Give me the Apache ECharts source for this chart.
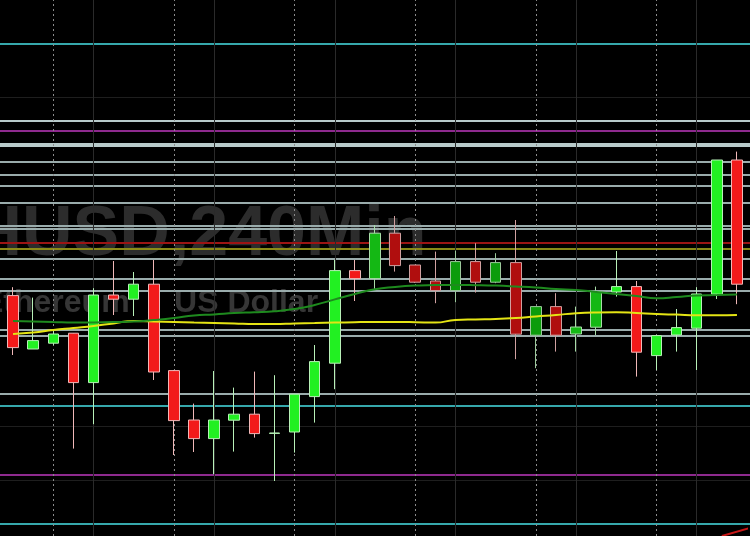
<!DOCTYPE html>
<html><head><meta charset="utf-8">
<script src="https://cdn.jsdelivr.net/npm/echarts@6/dist/echarts.min.js"></script>
<style>html,body{margin:0;padding:0;background:#000}#c{width:750px;height:536px}</style>
</head><body><div id="c"></div>
<script>
// 4-hour candles, ETHUSD
const categories = [
  '2/13 16:00','2/13 20:00',
  '2/14 00:00','2/14 04:00','2/14 08:00','2/14 12:00','2/14 16:00','2/14 20:00',
  '2/15 00:00','2/15 04:00','2/15 08:00','2/15 12:00','2/15 16:00','2/15 20:00',
  '2/16 00:00','2/16 04:00','2/16 08:00','2/16 12:00','2/16 16:00','2/16 20:00',
  '2/17 00:00','2/17 04:00','2/17 08:00','2/17 12:00','2/17 16:00','2/17 20:00',
  '2/18 00:00','2/18 04:00','2/18 08:00','2/18 12:00','2/18 16:00','2/18 20:00',
  '2/19 00:00','2/19 04:00','2/19 08:00','2/19 12:00','2/19 16:00'
];
// [open, close, low, high]
const candles = [
  [1720.2,1694.2,1690.5,1724.4],[1693.5,1697.7,1693.5,1719.2],[1696.4,1701.0,1695.5,1703.0],
  [1701.4,1676.7,1643.7,1701.5],[1676.7,1720.5,1655.9,1723.9],[1720.5,1718.4,1710.5,1737.5],
  [1718.4,1725.9,1710.0,1732.0],[1725.9,1682.0,1678.0,1738.0],[1682.7,1657.7,1640.5,1683.0],
  [1658.0,1648.7,1642.0,1666.2],[1648.7,1658.0,1630.9,1682.5],[1657.9,1660.9,1642.2,1674.2],
  [1660.9,1651.2,1649.2,1682.2],[1651.3,1651.5,1627.5,1680.4],[1652.0,1670.9,1641.7,1671.0],
  [1669.7,1687.2,1656.7,1695.5],[1686.4,1732.7,1673.4,1738.0],[1732.7,1728.7,1717.5,1738.0],
  [1728.7,1751.4,1723.4,1755.5],[1751.4,1735.2,1732.2,1760.0],[1735.5,1726.9,1726.5,1735.5],
  [1727.5,1722.7,1716.4,1742.2],[1722.7,1737.2,1716.9,1742.7],[1737.2,1726.9,1721.7,1746.4],
  [1726.9,1736.7,1726.4,1741.4],[1736.7,1700.9,1688.4,1758.0],[1700.4,1714.7,1683.9,1714.7],
  [1714.7,1700.4,1692.2,1721.4],[1701.0,1704.5,1692.2,1714.7],[1704.4,1722.2,1700.5,1724.7],
  [1722.0,1724.7,1719.7,1742.5],[1724.7,1691.9,1679.7,1727.5],[1690.2,1700.2,1683.0,1700.2],
  [1700.5,1704.2,1692.2,1713.5],[1703.9,1721.0,1683.0,1724.4],[1720.9,1788.0,1718.5,1788.0],
  [1788.0,1725.9,1715.9,1792.2]
];
const maSlow = [
  1701.0,1701.7,1703.0,1704.0,1705.0,1706.3,1707.5,1707.3,1707.0,1706.7,1706.5,1706.3,1706.0,
  1706.0,1706.3,1706.5,1706.7,1706.9,1707.0,1707.0,1706.9,1706.7,1708.0,1708.3,1708.5,1709.0,
  1709.8,1710.5,1711.4,1711.8,1711.9,1711.5,1711.0,1710.7,1710.4,1710.4,1710.5
];
const maFast = [
  1707.5,1707.3,1707.0,1706.7,1706.8,1707.0,1707.2,1708.0,1709.0,1710.3,1710.8,1711.5,1711.9,
  1712.4,1713.5,1715.5,1718.3,1721.0,1723.4,1724.5,1725.2,1725.5,1725.5,1725.4,1725.2,1724.8,
  1724.3,1723.5,1723.0,1722.0,1721.0,1720.0,1718.9,1719.5,1720.3,1720.5,1720.8
];
// horizontal price levels
const tealLevels = [1846.25, 1665.0, 1606.15];
const brightLevels = [1807.65, 1796.35, 1795.0];
const grayLevels = [1787.15, 1780.85, 1775.0, 1766.65, 1755.15, 1753.85, 1738.85, 1728.85, 1722.85, 1703.0, 1700.35, 1671.15];
const purpleLevels = [1802.5, 1630.85];
const redLevels = [1746.65];
const oliveLevels = [1743.5];
const faintLevels = [1819.5, 1655.0, 1628.0];
// vertical session markers
const dayLines = ['2/14 00:00','2/15 00:00','2/16 00:00','2/17 00:00','2/18 00:00','2/19 00:00'];
const sessionLines = ['2/14 08:00','2/15 08:00','2/16 08:00','2/17 08:00','2/18 08:00','2/19 08:00'];
// trend line [bar position, price]
const trendLine = [[35.75, 1600], [37.15, 1604]];

const dimIdx = new Set([19,20,21,22,23,24,25,26,27]);
const midIdx = new Set([18,28,29]);
const candleData = candles.map((v, i) => {
  let up = '#22f022', down = '#f21a1a';
  let upB = '#b8f0b8', downB = '#f0b8b8';
  if (dimIdx.has(i)) { up = '#0c9c0c'; down = '#b00e0e'; upB = '#9cc89c'; downB = '#d0a0a0'; }
  else if (midIdx.has(i)) { up = '#14b814'; down = '#c81010'; upB = '#a8dca8'; downB = '#dca8a8'; }
  const isUp = v[1] >= v[0];
  const fill = isUp ? up : down;
  const border = isUp ? upB : downB;
  return { value: v, itemStyle: { color: fill, color0: fill, borderColor: border, borderColor0: border } };
});

function lvl(list, color, width) {
  return list.map(v => ({ yAxis: v, lineStyle: { color: color, width: width, type: 'solid' } }));
}
const levelMarks = [].concat(
  lvl(faintLevels, '#1e1e1e', 1),
  lvl(grayLevels, '#9aacac', 2),
  lvl(brightLevels, '#b8caca', 2),
  lvl(tealLevels, '#36a8ac', 2),
  lvl(purpleLevels, '#8e2a8e', 2),
  lvl(redLevels, '#9c1414', 2),
  lvl(oliveLevels, '#8a8a18', 2)
);
const timeMarks = [].concat(
  sessionLines.map(c => ({ xAxis: c, lineStyle: { color: '#2a2a2a', width: 1, type: 'solid' } })),
  dayLines.map(c => ({ xAxis: c, lineStyle: { color: '#8c8c8c', width: 1, type: [2, 3] } }))
);
const ml = (data, z) => ({ silent: true, z: z, symbol: ['none', 'none'], label: { show: false }, animation: false, data: data });

const chart = echarts.init(document.getElementById('c'), null, { renderer: 'canvas' });
chart.setOption({
  backgroundColor: '#000',
  animation: false,
  grid: [
    { left: 3, right: 3, top: 0, bottom: 0 },
    { left: 0, right: 0, top: 0, bottom: 0 }
  ],
  xAxis: [
    { type: 'category', data: categories, boundaryGap: true, show: false, gridIndex: 0 },
    { type: 'value', min: 0, max: 37, show: false, gridIndex: 0 },
    { type: 'value', min: 0, max: 1, show: false, gridIndex: 1 }
  ],
  yAxis: [
    { type: 'value', min: 1600, max: 1868, show: false, gridIndex: 0 },
    { type: 'value', min: 1600, max: 1868, show: false, gridIndex: 1 }
  ],
  graphic: [
    { type: 'text', x: -118, y: 201, z: 0, silent: true,
      style: { text: 'ETHUSD,240Min', font: 'bold 70px "Liberation Sans"', fill: '#2c2c2c' } },
    { type: 'text', x: -18, y: 287, z: 0, silent: true,
      style: { text: 'Ethereum  /  US Dollar', font: 'bold 32px "Liberation Sans"', fill: '#363636' } }
  ],
  series: [
    { type: 'line', xAxisIndex: 2, yAxisIndex: 1, data: [], z: 1, silent: true, markLine: ml(levelMarks, 1) },
    { type: 'line', xAxisIndex: 0, yAxisIndex: 0, data: [], z: 1, silent: true, markLine: ml(timeMarks, 1) },
    { type: 'candlestick', xAxisIndex: 0, yAxisIndex: 0, data: candleData, z: 3, barWidth: 11, silent: true },
    { type: 'line', xAxisIndex: 0, yAxisIndex: 0, data: maSlow, z: 4, smooth: true, symbol: 'none', silent: true,
      lineStyle: { color: '#e4e414', width: 2 } },
    { type: 'line', xAxisIndex: 0, yAxisIndex: 0, data: maFast, z: 4, smooth: true, symbol: 'none', silent: true,
      lineStyle: { color: '#1e8a1e', width: 2 } },
    { type: 'line', xAxisIndex: 1, yAxisIndex: 0, data: trendLine, z: 4, symbol: 'none', silent: true,
      lineStyle: { color: '#c81818', width: 2 } }
  ]
});
</script></body></html>
